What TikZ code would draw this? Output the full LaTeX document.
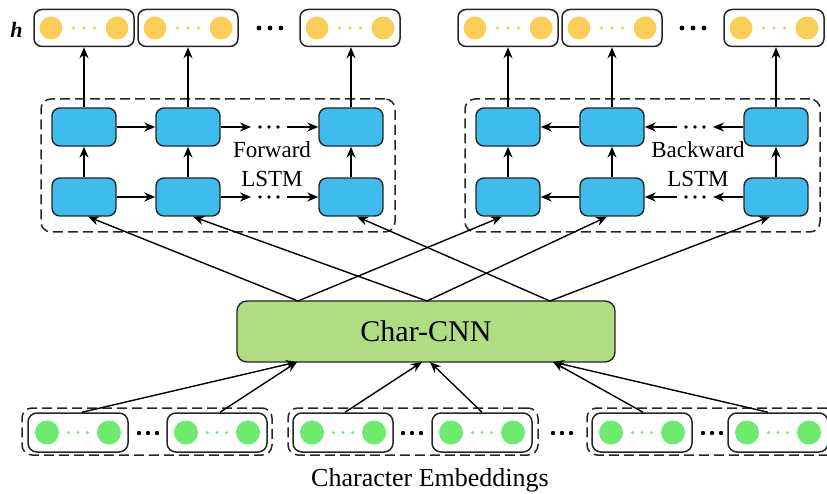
\documentclass[tikz,border=0pt]{standalone}
\usepackage{fontspec}
\setmainfont{Liberation Serif}
\usetikzlibrary{arrows.meta}
\definecolor{yel}{HTML}{F9CF57}
\definecolor{cellblue}{HTML}{3EBCEE}
\definecolor{cnngreen}{HTML}{B0DC84}
\definecolor{embgreen}{HTML}{6EEA6E}
\definecolor{edge}{HTML}{262626}
\begin{document}
\begin{tikzpicture}[x=1pt,y=-1pt,
  outbox/.style={draw=edge,line width=1.5pt,rounded corners=8pt,minimum width=100pt,minimum height=37pt,inner sep=0pt},
  cell/.style={draw=edge,fill=cellblue,line width=1.4pt,rounded corners=8pt,minimum width=64pt,minimum height=38pt,inner sep=0pt},
  embbox/.style={draw=edge,line width=1.5pt,rounded corners=9pt,minimum width=100pt,minimum height=39pt,inner sep=0pt},
  grp/.style={draw=edge,dash pattern=on 10pt off 5pt,line width=1.5pt,rounded corners=10pt,inner sep=0pt},
  arr/.style={-{Stealth[length=11pt,width=9pt]},line width=1.6pt},
  con/.style={line width=1.4pt},
  lbl/.style={font=\fontsize{23}{23}\selectfont,anchor=base,inner sep=0pt},
  blackdot/.style={fill=black},
]
\useasboundingbox (0,0) rectangle (827,494);
\clip (0,0) rectangle (827,494);

% output vectors h
\foreach \n/\x in {o1/84,o2/188,o3/350,o4/508,o5/612,o6/774} {
  \node[outbox] (\n) at (\x,28) {};
  \fill[yel] (\x-33,28) circle (11.5pt) (\x+33,28) circle (11.5pt);
  \foreach \d in {-10.5,0,10.5} \fill[yel] (\x+\d,28) circle (1.8pt);
}
\node[font=\fontsize{22}{22}\selectfont\bfseries\itshape,anchor=base,inner sep=0pt] (hl) at (16.5,38) {h};
\foreach \x in {259,270,281} \fill[blackdot] (\x,28) circle (2.4pt);
\foreach \x in {682,693,704} \fill[blackdot] (\x,28) circle (2.4pt);

% LSTM frames
\node[grp,minimum width=354pt,minimum height=133pt] (fwd) at (218,165.5) {};
\node[grp,minimum width=355pt,minimum height=133pt] (bwd) at (642.5,165.5) {};

% LSTM cells
\foreach \n/\x in {f1/84,f2/188,f3/351,b1/508,b2/612,b3/776} {
  \node[cell] (\n t) at (\x,127) {};
  \node[cell] (\n b) at (\x,197) {};
}
\foreach \c/\o in {f1/o1,f2/o2,f3/o3,b1/o4,b2/o5,b3/o6} {
  \draw[arr] (\c t.north) -- (\c t.north |- \o.south);
  \draw[arr] (\c b.north) -- (\c t.south);
}

% horizontal recurrences
\foreach \r/\y in {t/127,b/197} {
  \coordinate (fa\r) at (251,\y);
  \coordinate (fb\r) at (287,\y);
  \draw[arr] (f1\r.east) -- (f2\r.west);
  \draw[arr] (f2\r.east) -- (fa\r);
  \foreach \x in {260,269,278} \fill[blackdot] (\x,\y) circle (1.9pt);
  \draw[arr] (fb\r) -- (f3\r.west);
  \coordinate (ba\r) at (677,\y);
  \coordinate (bb\r) at (713,\y);
  \draw[arr] (b2\r.west) -- (b1\r.east);
  \draw[arr] (ba\r) -- (b2\r.east);
  \foreach \x in {686,695,704} \fill[blackdot] (\x,\y) circle (1.9pt);
  \draw[arr] (b3\r.west) -- (bb\r);
}
\node[lbl] (fwl1) at (272,158) {Forward};
\node[lbl] (fwl2) at (272,187) {LSTM};
\node[lbl] (bwl1) at (698,158) {Backward};
\node[lbl] (bwl2) at (698,187) {LSTM};

% Char-CNN
\node[draw=edge,fill=cnngreen,line width=1.4pt,rounded corners=10pt,minimum width=378pt,minimum height=61pt,inner sep=0pt,font=\fontsize{30}{30}\selectfont] (cnn) at (426,331.5) {Char-CNN};
\coordinate (t1) at (298,301);
\coordinate (t2) at (427,301);
\coordinate (t3) at (550,301);
\draw[arr,con] (t1) -- ([xshift=4pt]f1b.south);
\draw[arr,con] (t2) -- ([xshift=5pt]f2b.south);
\draw[arr,con] (t3) -- ([xshift=6pt]f3b.south);
\draw[arr,con] (t1) -- ([xshift=-6pt]b1b.south);
\draw[arr,con] (t2) -- ([xshift=-5pt]b2b.south);
\draw[arr,con] (t3) -- ([xshift=-6pt]b3b.south);

% embeddings
\node[grp,minimum width=250pt,minimum height=47pt] (g1) at (147,431.5) {};
\node[grp,minimum width=250pt,minimum height=47pt] (g2) at (413,431.5) {};
\node[grp,minimum width=250pt,minimum height=47pt] (g3) at (712,431.5) {};
\foreach \n/\x in {e1/78,e2/217,e3/343,e4/482,e5/642,e6/778} {
  \node[embbox] (\n) at (\x,432.5) {};
  \fill[embgreen] (\x-31,432.5) circle (12pt) (\x+31,432.5) circle (12pt);
  \foreach \d in {-9.5,0,9.5} \fill[embgreen] (\x+\d,432.5) circle (1.7pt);
}
\foreach \c in {148,412,562,712}
  \foreach \d in {-9,0,9} \fill[blackdot] (\c+\d,433) circle (2.2pt);

\coordinate (c1) at (297,362);
\coordinate (c2a) at (422,362);
\coordinate (c2b) at (430,362);
\coordinate (c3) at (553,362);
\draw[arr,con] ([xshift=4pt]e1.north) -- (c1);
\draw[arr,con] ([xshift=3pt]e2.north) -- (c1);
\draw[arr,con] ([xshift=2pt]e3.north) -- (c2a);
\draw[arr,con] (e4.north) -- (c2b);
\draw[arr,con] ([xshift=1pt]e5.north) -- (c3);
\draw[arr,con] ([xshift=-10pt]e6.north) -- (c3);

\node[font=\fontsize{26}{26}\selectfont,anchor=base,inner sep=0pt] (cap) at (430,486) {Character Embeddings};
\end{tikzpicture}
\end{document}
